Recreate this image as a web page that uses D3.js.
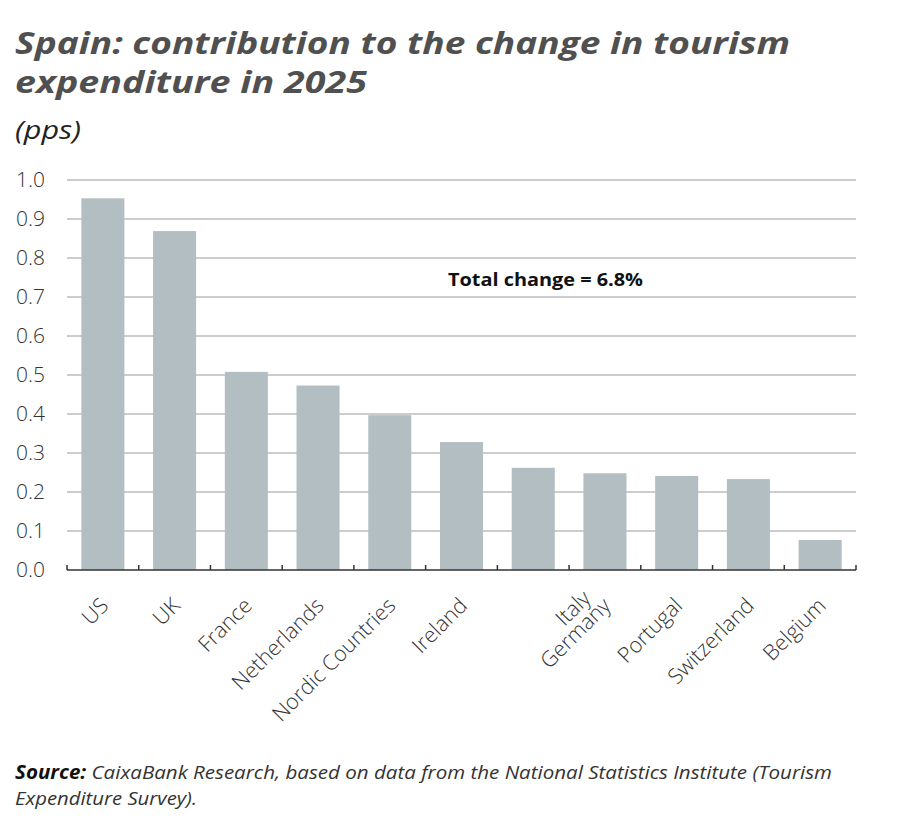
<!DOCTYPE html>
<html>
<head>
<meta charset="utf-8">
<script src="https://cdn.jsdelivr.net/npm/d3@7"></script>
<style>
  body { margin: 0; background: #fff; }
  text { font-family: 'Open Sans', 'DejaVu Sans', sans-serif; }
</style>
</head>
<body>
<script>
// data
let categories = ['US', 'UK', 'France', 'Netherlands', 'Nordic Countries', 'Ireland',
                  'Italy', 'Germany', 'Portugal', 'Switzerland', 'Belgium'];
let values     = [0.953, 0.869, 0.508, 0.473, 0.397, 0.328, 0.262, 0.248, 0.241, 0.233, 0.077];
let yTicks     = [0, 0.1, 0.2, 0.3, 0.4, 0.5, 0.6, 0.7, 0.8, 0.9, 1.0];
let title      = ['Spain: contribution to the change in tourism', 'expenditure in 2025'];
let unit       = '(pps)';
let note       = 'Total change = 6.8%';
let sourceText = ['CaixaBank Research, based on data from the National Statistics Institute (Tourism',
                  'Expenditure Survey).'];

let width = 900, height = 827;
let plotLeft = 67, plotRight = 856, plotTop = 180, plotBottom = 570;

let svg = d3.select('body').append('svg')
  .attr('width', width)
  .attr('height', height);

let x = d3.scaleBand().domain(categories).range([plotLeft, plotRight]).paddingInner(0.4).paddingOuter(0.2);
let y = d3.scaleLinear().domain([0, 1]).range([plotBottom, plotTop]);

// title
svg.selectAll('.title').data(title).enter().append('text')
  .attr('class', 'title')
  .attr('x', 15)
  .attr('y', (d, i) => 54 + i * 39)
  .attr('textLength', (d, i) => i == 0 ? 775 : 352)
  .attr('lengthAdjust', 'spacingAndGlyphs')
  .style('font-size', '31px')
  .style('font-weight', 'bold')
  .style('font-style', 'italic')
  .style('fill', '#505050')
  .text(d => d);

svg.append('text')
  .attr('x', 15).attr('y', 139)
  .attr('textLength', 66).attr('lengthAdjust', 'spacingAndGlyphs')
  .style('font-size', '26px')
  .style('font-style', 'italic')
  .style('fill', '#222')
  .text(unit);

// gridlines
svg.append('g').selectAll('line').data(yTicks.filter(d => d > 0)).enter().append('line')
  .attr('x1', plotLeft).attr('x2', plotRight)
  .attr('y1', d => y(d)).attr('y2', d => y(d))
  .attr('stroke', '#9a9a9a')
  .attr('stroke-width', 1);

// y axis labels
let yAxis = svg.append('g')
  .attr('transform', 'translate(' + plotLeft + ',0)')
  .call(d3.axisLeft(y).tickValues(yTicks).tickFormat(d3.format('.1f')).tickSize(0).tickPadding(22));
yAxis.select('.domain').remove();
yAxis.selectAll('text')
  .style('font-family', "'Open Sans', sans-serif")
  .style('font-size', '21px')
  .style('font-weight', 300)
  .style('fill', '#333');

// bars
svg.append('g').selectAll('rect').data(values).enter().append('rect')
  .attr('x', (d, i) => x(categories[i]))
  .attr('width', x.bandwidth())
  .attr('y', d => y(d))
  .attr('height', d => y(0) - y(d))
  .attr('fill', '#b2bec2');

// x axis baseline with ticks at band edges
let edges = categories.map(c => x(c) - x.step() * x.paddingInner() / 2).concat([plotRight]);
edges[0] = plotLeft;
svg.append('line')
  .attr('x1', plotLeft).attr('x2', plotRight)
  .attr('y1', plotBottom).attr('y2', plotBottom)
  .attr('stroke', '#333').attr('stroke-width', 1.5);
svg.append('g').selectAll('line').data(edges).enter().append('line')
  .attr('x1', d => d).attr('x2', d => d)
  .attr('y1', plotBottom - 5).attr('y2', plotBottom)
  .attr('stroke', '#333').attr('stroke-width', 1.5);

// category labels, Italy's label sits stacked over Germany's as in the source
let labelAt = c => c == 'Italy' ? 'Germany' : c;
svg.append('g').selectAll('text').data(categories).enter().append('text')
  .attr('transform', d => 'translate(' + (x(labelAt(d)) + x.bandwidth() / 2 + 7) + ',607) rotate(-45)')
  .attr('text-anchor', 'end')
  .attr('dx', d => d == 'Italy' ? -9 : 0)
  .attr('dy', d => d == 'Italy' ? '-0.9em' : 0)
  .style('font-size', '21.5px')
  .style('font-weight', 300)
  .style('fill', '#333')
  .text(d => d);

// annotation
svg.append('text')
  .attr('x', 448).attr('y', 286)
  .attr('textLength', 195).attr('lengthAdjust', 'spacingAndGlyphs')
  .style('font-size', '18px')
  .style('font-weight', 'bold')
  .style('fill', '#111')
  .text(note);

// source
let src = svg.append('text')
  .attr('x', 15).attr('y', 779)
  .attr('textLength', 817).attr('lengthAdjust', 'spacingAndGlyphs')
  .style('font-size', '19px')
  .style('font-style', 'italic')
  .style('fill', '#333');
src.append('tspan').style('font-weight', 'bold').style('fill', '#111').text('Source: ');
src.append('tspan').text(sourceText[0]);
svg.append('text')
  .attr('x', 15).attr('y', 805)
  .attr('textLength', 182).attr('lengthAdjust', 'spacingAndGlyphs')
  .style('font-size', '19px')
  .style('font-style', 'italic')
  .style('fill', '#333')
  .text(sourceText[1]);
</script>
</body>
</html>
